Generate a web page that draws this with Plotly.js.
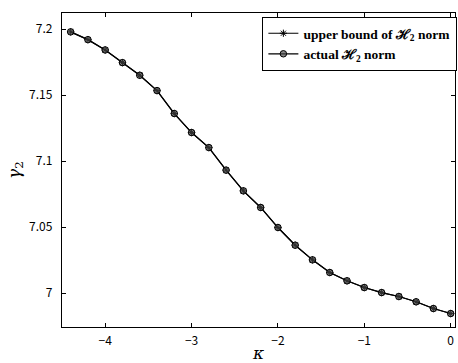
<!DOCTYPE html>
<html><head><meta charset="utf-8">
<script src="https://cdn.plot.ly/plotly-3.0.1.min.js"></script>
<style>html,body{margin:0;padding:0;background:#fff}#chart{width:458px;height:363px}</style>
</head><body><div id="chart"></div>
<script>
const kappa = [-4.4,-4.2,-4.0,-3.8,-3.6,-3.4,-3.2,-3.0,-2.8,-2.6,-2.4,-2.2,-2.0,-1.8,-1.6,-1.4,-1.2,-1.0,-0.8,-0.6,-0.4,-0.2,0.0];
const upperBound = [7.1980,7.1921,7.1843,7.1747,7.1651,7.1535,7.1361,7.1217,7.1103,7.0932,7.0775,7.0649,7.0497,7.0363,7.0252,7.0156,7.0093,7.0042,7.0004,6.9974,6.9934,6.9883,6.9845];
const actual = [7.1980,7.1921,7.1843,7.1747,7.1651,7.1535,7.1361,7.1217,7.1103,7.0932,7.0775,7.0649,7.0497,7.0363,7.0252,7.0156,7.0093,7.0042,7.0004,6.9974,6.9934,6.9883,6.9845];
const names = ['upper bound of \u210B<sub>2</sub> norm','actual \u210B<sub>2</sub> norm'];

const traces = [
  {x:kappa, y:upperBound, name:names[0], mode:'lines+markers',
   line:{color:'#000',width:1.2},
   marker:{symbol:'asterisk-open',size:6,color:'#000',line:{width:1,color:'#000'}}},
  {x:kappa, y:actual, name:names[1], mode:'lines+markers',
   line:{color:'#000',width:1.2},
   marker:{symbol:'circle',size:6.5,color:'rgba(70,70,70,0.65)',line:{width:1,color:'#000'}}}
];
const axisCommon = {showline:true, linecolor:'#000', linewidth:1.2, mirror:'ticks',
  ticks:'inside', ticklen:4, tickcolor:'#000', showgrid:false, zeroline:false,
  tickfont:{family:'Noto Sans CJK JP, DejaVu Sans, sans-serif', size:12, color:'#000'}};
const layout = {
  width:458, height:363, margin:{l:62,r:2,t:13,b:36},
  paper_bgcolor:'#fff', plot_bgcolor:'#fff', showlegend:true,
  xaxis:Object.assign({}, axisCommon, {range:[-4.5,0.05], dtick:1, tick0:0, ticklabelstandoff:2,
    title:{text:'<i>κ</i>', font:{family:'DejaVu Serif, serif', size:17, color:'#000'}, standoff:0}}),
  yaxis:Object.assign({}, axisCommon, {range:[6.9743,7.2123], dtick:0.05, tick0:7, ticklabelstandoff:6,
    title:{text:'<i>γ</i><sub>2</sub>', font:{family:'DejaVu Serif, serif', size:17, color:'#000'}, standoff:4}}),
  legend:{x:1.003, xanchor:'right', y:0.988, yanchor:'top', bgcolor:'#fff',
    bordercolor:'#000', borderwidth:1.2, tracegroupgap:0,
    font:{family:'Liberation Serif, serif', size:13.5, color:'#000', weight:'bold'},
    itemwidth:30}
};
Plotly.newPlot('chart', traces, layout, {displayModeBar:false, staticPlot:true});
</script></body></html>
